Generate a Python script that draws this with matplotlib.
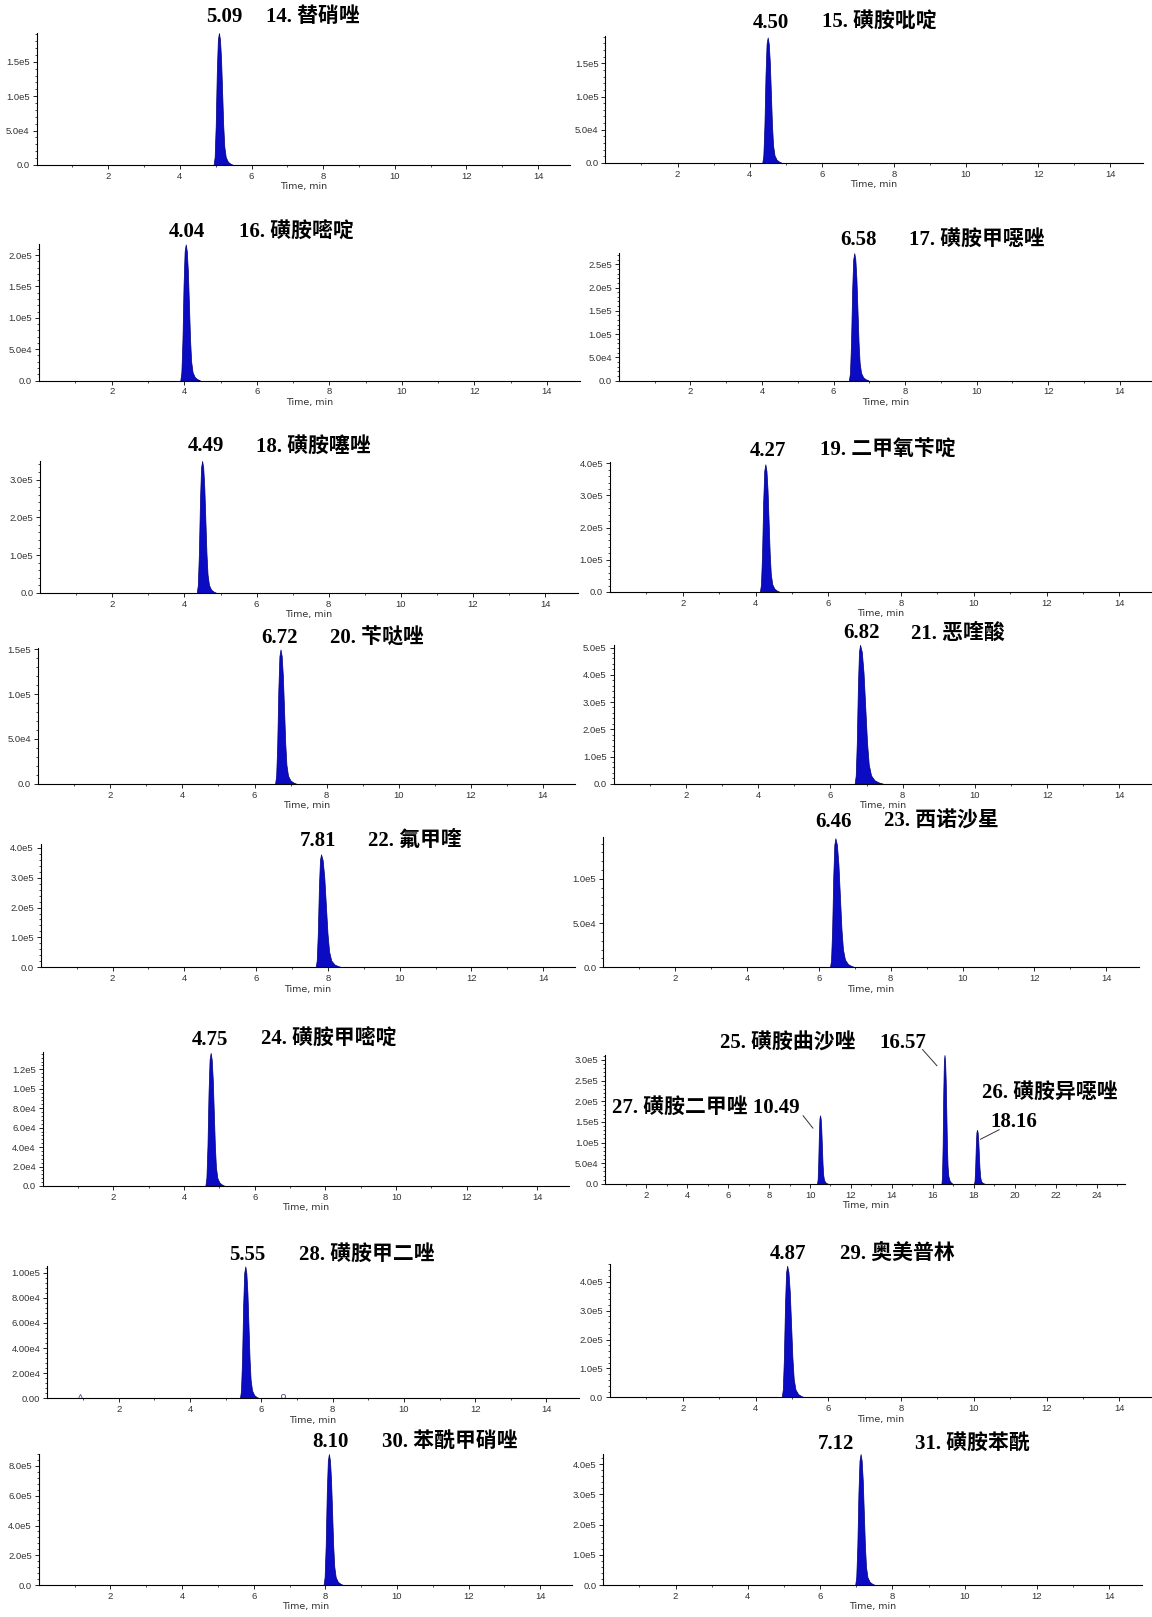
import numpy as np
import matplotlib.pyplot as plt
from matplotlib.ticker import AutoMinorLocator, FixedLocator
import matplotlib.transforms as mtransforms

# ---- data (panels row by row, left then right; panel 12 holds three peaks) ----
names = ["14. 替硝唑", "15. 磺胺吡啶", "16. 磺胺嘧啶", "17. 磺胺甲噁唑",
         "18. 磺胺噻唑", "19. 二甲氧苄啶", "20. 苄哒唑", "21. 恶喹酸",
         "22. 氟甲喹", "23. 西诺沙星", "24. 磺胺甲嘧啶", None,
         "28. 磺胺甲二唑", "29. 奥美普林", "30. 苯酰甲硝唑", "31. 磺胺苯酰"]
rt = [5.09, 4.50, 4.04, 6.58, 4.49, 4.27, 6.72, 6.82,
      7.81, 6.46, 4.75, None, 5.55, 4.87, 8.10, 7.12]
height = [1.92e5, 1.89e5, 2.17e5, 2.74e5, 3.49e5, 3.97e5, 1.50e5, 5.10e5,
          3.78e5, 1.46e5, 1.37e5, None, 1.05e5, 4.55e5, 8.80e5, 4.34e5]
ymax = [1.92e5, 1.91e5, 2.17e5, 2.75e5, 3.49e5, 4.04e5, 1.52e5, 5.11e5,
        4.14e5, 1.47e5, 1.38e5, 3.12e5, 1.05e5, 4.60e5, 8.80e5, 4.34e5]
ystep = [5e4, 5e4, 5e4, 5e4, 1e5, 1e5, 5e4, 1e5,
         1e5, 5e4, 2e4, 5e4, 2e4, 1e5, 2e5, 1e5]
ydec = [1, 1, 1, 1, 1, 1, 1, 1, 1, 1, 1, 1, 2, 1, 1, 1]
tail = [1.0, 1.0, 1.0, 1.0, 1.0, 1.0, 1.1, 1.6,
        1.5, 1.4, 1.0, 1.0, 1.0, 1.2, 1.0, 1.0]
xmax = [14.9] * 11 + [25.4] + [14.9] * 4

# multi-peak panel (25, 26, 27)
multi_rt = [10.49, 16.57, 18.16]
multi_height = [1.66e5, 3.12e5, 1.31e5]

# small blips in panel 28
blip_x = [0.9, 6.6]
blip_y = [1.5e3, 1.5e3]

# shared peak profile: offset from apex (min), relative height
peak_dt = [-0.15, -0.12, -0.09, -0.06, -0.03, 0.0, 0.03, 0.06, 0.09,
           0.12, 0.15, 0.19, 0.25, 0.32, 0.40]
peak_rel = [0.0, 0.06, 0.30, 0.70, 0.95, 1.0, 0.95, 0.80, 0.55,
            0.30, 0.14, 0.06, 0.025, 0.01, 0.0]

# ---- layout (pixel boxes on a 1117x1568 canvas: left, top, right, bottom) ----
boxes = [(35.5, 32, 553, 160), (587, 35, 1108, 158),
         (38, 237, 562, 369), (600, 245, 1117, 369),
         (39, 447, 560, 575), (591.5, 448, 1117, 574),
         (37, 628, 558, 760), (595, 625, 1117, 760),
         (39.5, 818, 558, 938), (585, 812, 1104, 938),
         (41.5, 1020, 552, 1150), (587, 1023, 1091, 1148),
         (46, 1228, 561, 1356), (591.5, 1226, 1117, 1355),
         (37.7, 1410, 555, 1537), (585, 1410, 1107, 1537)]
num_x = [5.25, 4.60, 4.06, 6.70, 4.60, 4.35, 6.69, 6.86,
         7.72, 6.41, 4.74, None, 5.60, 4.89, 8.13, 6.43]
name_x = [6.40, 6.00, 5.50, 8.10, 5.97, 5.77, 8.09, 8.23,
          9.12, 7.82, 6.18, None, 7.05, 6.31, 9.58, 8.63]
text_y = [1.125, 1.105, 1.09, 1.097, 1.11, 1.087, 1.07, 1.08,
          1.02, 1.12, 1.09, None, 1.086, 1.078, 1.094, 1.08]

W, H = 1117.0, 1568.0
BLUE = "#0b0bc4"
EDGE = "#00007a"
TXT = dict(family=["Liberation Serif", "Noto Sans CJK SC"], weight="bold",
           fontsize=15, color="black")


def fmt(v, d):
    if v == 0:
        return "0." + "0" * d
    e = int(np.floor(np.log10(v)))
    return f"{v / 10**e:.{d}f}e{e}"


def draw_peak(ax, t0, h, tl):
    dt = np.array(peak_dt)
    x = t0 + np.where(dt < 0, dt, dt * tl)
    y = h * np.array(peak_rel)
    ax.fill_between(x, y, 0, facecolor=BLUE, edgecolor=EDGE, lw=0.5)


fig = plt.figure(figsize=(11.52, 16.17), dpi=100)

for i in range(16):
    l, t, r, b = boxes[i]
    ax = fig.add_axes([l / W, 1 - b / H, (r - l) / W, (b - t) / H])
    for s in ["top", "right"]:
        ax.spines[s].set_visible(False)
    ax.spines["left"].set_linewidth(0.8)
    ax.spines["bottom"].set_linewidth(0.8)

    if i == 11:
        for t0, h in zip(multi_rt, multi_height):
            draw_peak(ax, t0, h, 1.0)
    else:
        draw_peak(ax, rt[i], height[i], tail[i])

    if i == 12:
        ax.plot(blip_x[:1], blip_y[:1], marker="^", mfc="none", mec="#4a4aa8",
                ms=3, mew=0.6, ls="none", clip_on=False)
        ax.plot(blip_x[1:], blip_y[1:], marker="o", mfc="none", mec="#4a4aa8",
                ms=3, mew=0.6, ls="none", clip_on=False)

    ax.set_xlim(0, xmax[i])
    ax.set_ylim(0, ymax[i])
    ax.xaxis.set_major_locator(FixedLocator(np.arange(2, xmax[i], 2)))
    ax.xaxis.set_minor_locator(FixedLocator(np.arange(1, xmax[i], 2)))
    yt = np.arange(0, ymax[i] + 1, ystep[i])
    ax.yaxis.set_major_locator(FixedLocator(yt))
    ax.set_yticklabels([fmt(v, ydec[i]) for v in yt])
    ax.yaxis.set_minor_locator(AutoMinorLocator(5))
    ax.tick_params(axis="both", which="major", length=3, width=0.6,
                   labelsize=6.8, labelcolor="#333333", pad=2)
    ax.tick_params(axis="both", which="minor", length=1.5, width=0.5)
    ax.set_xlabel("Time, min", fontsize=6.8, color="#333333", labelpad=1)
    for lab in ax.get_xticklabels() + ax.get_yticklabels():
        lab.set_family("Liberation Sans")

    trans = mtransforms.blended_transform_factory(ax.transData, ax.transAxes)
    if names[i] is not None:
        ax.text(num_x[i], text_y[i], f"{rt[i]:.2f}", transform=trans,
                ha="center", va="center", **TXT)
        ax.text(name_x[i], text_y[i], names[i], transform=trans,
                ha="left", va="center", **TXT)
    else:
        ax.text(5.6, 1.09, "25. 磺胺曲沙唑", transform=trans,
                ha="left", va="center", **TXT)
        ax.text(14.55, 1.09, f"{multi_rt[1]:.2f}", transform=trans,
                ha="center", va="center", **TXT)
        ax.plot([15.5, 16.2], [3.25e5, 2.86e5], color="#333333", lw=0.7,
                clip_on=False)
        ax.text(18.39, 2.21e5, "26. 磺胺异噁唑", ha="left", va="center", **TXT)
        ax.text(18.83, 1.50e5, f"{multi_rt[2]:.2f}", ha="left", va="center", **TXT)
        ax.plot([18.33, 19.24], [1.08e5, 1.31e5], color="#333333", lw=0.7)
        ax.text(0.31, 1.84e5, f"27. 磺胺二甲唑 {multi_rt[0]:.2f}",
                ha="left", va="center", **TXT)
        ax.plot([9.66, 10.14], [1.65e5, 1.35e5], color="#333333", lw=0.7)

fig.savefig("out.png", dpi=100, facecolor="white")
